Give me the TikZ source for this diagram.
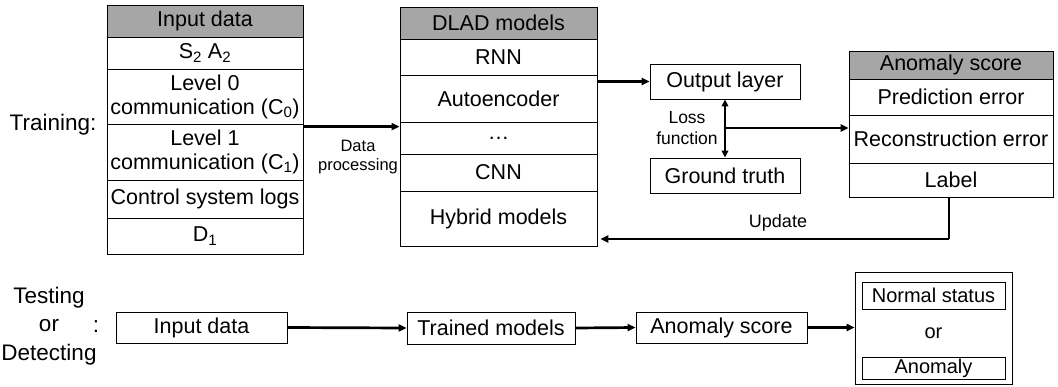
\documentclass[tikz,border=0pt]{standalone}
\usepackage{fontspec}
\setmainfont{Liberation Sans}
\usetikzlibrary{arrows.meta}
\definecolor{hdrgray}{RGB}{166,166,166}
\tikzset{
  cell/.style={draw=black, line width=0.8pt, inner sep=0pt, align=center,
    font=\fontsize{21.5}{24}\selectfont},
  hdr/.style={cell, fill=hdrgray},
  plain/.style={inner sep=0pt, align=center, font=\fontsize{22.5}{28.5}\selectfont},
  small/.style={inner sep=0pt, align=center, font=\fontsize{16.5}{19.5}\selectfont},
  arr/.style={line width=2.7pt, -{Triangle[length=8pt,width=7pt]}},
  darr/.style={line width=2.2pt, {Triangle[length=7pt,width=6.5pt]}-{Triangle[length=7pt,width=6.5pt]}},
  link/.style={line width=2.7pt}
}
\begin{document}
\begin{tikzpicture}[x=1pt,y=-1pt]
\useasboundingbox (0,0) rectangle (1058,386);

% Training label
\node[plain] (train) at (53,125) {Training:};

% Input data table
\node[hdr, minimum width=196, minimum height=32] (inh) at (205,21) {Input data};
\node[cell, minimum width=196, minimum height=32] (s2) at (205,53) {S\textsubscript{2} A\textsubscript{2}};
\node[cell, minimum width=196, minimum height=55] (l0) at (205,96.5) {Level 0\\communication (C\textsubscript{0})};
\node[cell, minimum width=196, minimum height=56] (l1) at (205,152) {Level 1\\communication (C\textsubscript{1})};
\node[cell, minimum width=196, minimum height=38] (ctrl) at (205,199) {Control system logs};
\node[cell, minimum width=196, minimum height=36] (d1) at (205,236) {D\textsubscript{1}};

% DLAD models table
\node[hdr, minimum width=197, minimum height=32] (dh) at (498.5,23) {DLAD models};
\node[cell, minimum width=197, minimum height=36] (rnn) at (498.5,57) {RNN};
\node[cell, minimum width=197, minimum height=47] (ae) at (498.5,98.5) {Autoencoder};
\node[cell, minimum width=197, minimum height=32] (dots) at (498.5,138) {\textellipsis};
\node[cell, minimum width=197, minimum height=37] (cnn) at (498.5,172.5) {CNN};
\node[cell, minimum width=197, minimum height=55] (hyb) at (498.5,218.5) {Hybrid models};

% Data processing arrow
\draw[arr] ([yshift=-3pt]l1.north east) -- ([yshift=-3pt]l1.north east -| dots.west);
\node[small] (dp) at (358,157) {Data\\processing};

% Output layer / Ground truth
\node[cell, minimum width=150, minimum height=35] (out) at (725,81.5) {Output layer};
\node[cell, minimum width=150, minimum height=35] (gt) at (725,175.5) {Ground truth};
\draw[arr] (out.west -| ae.east) -- (out.west);
\draw[darr] (out.south) -- (gt.north);
\node[small, font=\fontsize{17.5}{20.5}\selectfont] (loss) at (687,128) {Loss\\function};

% Anomaly score table
\node[hdr, minimum width=204, minimum height=28] (ah) at (951,65) {Anomaly score};
\node[cell, minimum width=204, minimum height=36] (pred) at (951,97) {Prediction error};
\node[cell, minimum width=204, minimum height=48] (recon) at (951,139) {Reconstruction error};
\node[cell, minimum width=204, minimum height=34] (lab) at (951,180) {Label};

\coordinate (lm) at (725,128);
\draw[arr] (lm) -- (lm -| recon.west);

% Update feedback
\coordinate (upd) at (949,239);
\draw[link] (upd |- lab.south) -- (upd);
\draw[arr] (upd) -- ([xshift=3pt]upd -| hyb.east);
\node[small, font=\fontsize{18}{21}\selectfont] (updl) at (778,223) {Update};

% Testing row
\node[plain] (test) at (49,326) {Testing\\or\\Detecting};
\node[plain] (colon) at (96,327) {:};
\node[cell, minimum width=171, minimum height=31] (tin) at (201.5,327.5) {Input data};
\node[cell, minimum width=168, minimum height=32] (tm) at (491,328) {Trained models};
\node[cell, minimum width=171, minimum height=31] (tas) at (721.5,327.5) {Anomaly score};
\node[cell, minimum width=157, minimum height=112] (res) at (933.5,328) {};
\node[cell, minimum width=143, minimum height=27, font=\fontsize{20}{24}\selectfont] (ns) at (933.5,295.5) {Normal status};
\node[plain, font=\fontsize{20}{24}\selectfont] (or) at (933.5,333) {or};
\node[cell, minimum width=143, minimum height=22, font=\fontsize{20}{24}\selectfont] (an) at (933.5,368) {Anomaly};

\draw[arr] (tin.east) -- (tm.west);
\draw[arr] (tm.east) -- (tas.west);
\draw[arr] (tas.east) -- (tas.east -| res.west);
\end{tikzpicture}
\end{document}
